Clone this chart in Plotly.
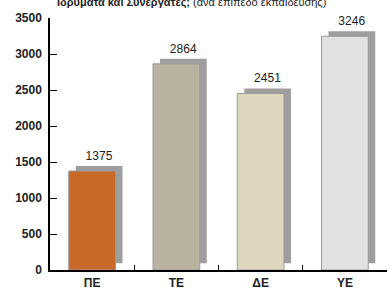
import plotly.graph_objects as go

categories = ["ΠΕ", "ΤΕ", "ΔΕ", "ΥΕ"]
values = [1375, 2864, 2451, 3246]
bar_colors = ["#C8692A", "#B8B3A0", "#DFD6BE", "#E1E1E4"]
y_ticks = [0, 500, 1000, 1500, 2000, 2500, 3000, 3500]
title_bold = "Ιδρύματα και Συνεργάτες;"
title_rest = " (ανά επίπεδο εκπαίδευσης)"

FONT = "Liberation Sans Narrow, Arial Narrow, Liberation Sans, Arial, sans-serif"
bar_w = 0.555
dx = 0.083
shadow_base = 95
shadow_rise = 70

fig = go.Figure()
# shadow bars
fig.add_trace(go.Bar(
    x=categories,
    y=[v + shadow_rise - shadow_base for v in values],
    base=[shadow_base] * len(values),
    width=bar_w,
    offset=-bar_w / 2 + dx,
    marker=dict(color="#9E9E9E", line=dict(width=0)),
    text=[str(v) for v in values],
    textposition="outside",
    textfont=dict(family=FONT, size=12, color="#222"),
    cliponaxis=False,
    hoverinfo="skip",
))
# main bars
fig.add_trace(go.Bar(
    x=categories,
    y=values,
    width=bar_w,
    offset=-bar_w / 2,
    marker=dict(color=bar_colors, line=dict(width=1, color="#9A9A9A")),
    cliponaxis=False,
))

fig.update_layout(
    width=387, height=291,
    margin=dict(l=50, r=0, t=18, b=21, autoexpand=False),
    barmode="overlay",
    showlegend=False,
    plot_bgcolor="white",
    paper_bgcolor="white",
    font=dict(family=FONT, color="#222"),
    annotations=[dict(
        text=f"<b>{title_bold}</b>{title_rest}",
        xref="paper", yref="paper", x=0.42, y=1.062,
        xanchor="center", yanchor="middle", showarrow=False,
        font=dict(family=FONT, size=11, color="#222"),
    )],
)
fig.update_xaxes(
    showline=True, linecolor="black", linewidth=1.5,
    ticks="inside", tickson="boundaries", ticklen=5, tickcolor="black",
    tickfont=dict(family=FONT, size=12, color="#222", weight="bold"),
    range=[-0.5, 3.5], fixedrange=True, automargin=False,
    ticklabelstandoff=1,
)
fig.update_yaxes(
    range=[0, 3500], tickvals=y_ticks,
    showline=True, linecolor="black", linewidth=1.5,
    ticks="inside", ticklen=7, tickcolor="black",
    showgrid=False, zeroline=False,
    tickfont=dict(family=FONT, size=12, color="#222", weight="bold"),
    ticklabelstandoff=4, automargin=False,
)
fig.write_html(
    "out.html",
    config={"displayModeBar": False},
    post_script="document.body.style.margin='0';document.body.style.overflow='hidden';",
)
